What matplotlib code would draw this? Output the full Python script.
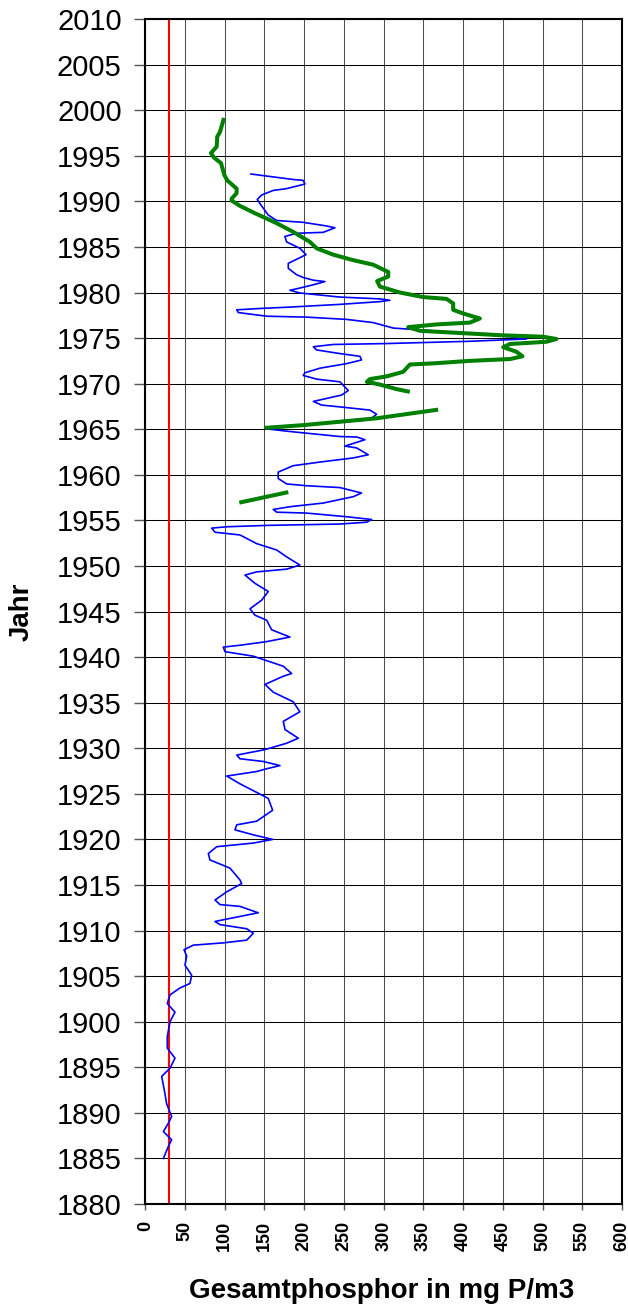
import numpy as np
import matplotlib
matplotlib.use("Agg")
import matplotlib.pyplot as plt

# blue series (measured), value in mg P/m3 vs year
blue_year = [1993.0, 1992.4, 1992.3, 1991.9, 1991.4, 1991.2, 1990.7, 1990.2, 1989.25, 1988.5,
             1987.9, 1987.7, 1987.3, 1987.1, 1986.6, 1986.5, 1986.15, 1985.55, 1984.85, 1984.15,
             1983.65, 1983.2, 1982.65, 1981.95, 1981.65, 1981.35, 1981.2, 1980.85, 1980.45, 1980.25,
             1979.95, 1979.5, 1979.3, 1979.15, 1979.0, 1978.7, 1978.4, 1978.25, 1978.1, 1977.8,
             1977.4, 1977.3, 1977.05, 1976.7, 1976.1, 1976.0, 1975.6, 1975.1, 1974.9, 1974.65,
             1974.4, 1974.3, 1974.05, 1973.7, 1973.3, 1973.0, 1972.6, 1972.2, 1971.7, 1971.2,
             1970.9, 1970.5, 1970.2, 1969.25, 1968.75, 1968.25, 1968.05, 1967.65, 1967.45, 1967.1,
             1966.65, 1966.05, 1965.75, 1965.45, 1965.0, 1964.75, 1964.2, 1964.15, 1963.85, 1963.15,
             1962.95, 1962.2, 1961.85, 1961.4, 1961.0, 1960.3, 1959.6, 1959.0, 1958.8, 1958.6,
             1958.0, 1957.6, 1956.9, 1956.5, 1956.2, 1955.9, 1955.8, 1955.4, 1955.1, 1954.8,
             1954.6, 1954.45, 1954.3, 1954.15, 1953.7, 1953.4, 1952.45, 1951.75, 1951.0, 1950.1,
             1949.65, 1949.35, 1949.0, 1948.1, 1947.2, 1946.25, 1945.3, 1944.6, 1944.05, 1943.0,
             1942.2, 1941.7, 1941.3, 1941.1, 1940.6, 1940.1, 1939.0, 1938.2, 1937.9, 1937.0,
             1936.15, 1935.1, 1934.0, 1932.95, 1932.05, 1931.1, 1930.55, 1929.85, 1929.25, 1928.85,
             1928.55, 1928.1, 1927.75, 1927.45, 1926.95, 1926.1, 1924.5, 1923.2, 1922.0, 1921.6,
             1921.05, 1920.5, 1920.0, 1919.6, 1919.2, 1918.45, 1917.75, 1916.85, 1915.55, 1915.15,
             1914.25, 1913.35, 1912.85, 1912.65, 1911.95, 1911.55, 1911.0, 1910.65, 1910.2, 1909.7,
             1908.95, 1908.65, 1908.4, 1907.9, 1907.2, 1906.2, 1905.1, 1904.2, 1903.7, 1902.95,
             1902.0, 1901.05, 1900.0, 1898.35, 1897.1, 1896.0, 1894.9, 1894.0, 1892.1, 1891.0,
             1889.6, 1888.85, 1887.95, 1887.05, 1886.3, 1885.0]
blue_val = [133.0, 186.2, 198.8, 201.0, 177.9, 161.1, 146.5, 140.9, 148.5, 154.8,
            165.4, 198.8, 228.2, 238.7, 223.9, 190.5, 175.7, 177.9, 194.6, 202.3,
            190.5, 180.0, 180.0, 190.5, 198.8, 211.5, 226.1, 211.5, 192.6, 182.1,
            194.6, 245.0, 295.3, 307.9, 295.3, 245.0, 182.1, 144.4, 115.1, 117.1,
            152.8, 203.1, 253.4, 286.9, 312.0, 328.8, 395.5, 464.8, 479.7, 408.4,
            303.5, 236.6, 211.5, 215.6, 245.0, 270.2, 272.2, 253.4, 219.9, 201.0,
            198.8, 215.6, 245.0, 255.5, 247.1, 222.0, 211.5, 222.0, 245.0, 282.7,
            291.1, 282.7, 245.0, 194.6, 157.0, 182.1, 245.0, 266.0, 276.5, 251.3,
            266.0, 280.6, 261.7, 219.9, 186.2, 167.3, 167.3, 177.9, 203.1, 245.0,
            272.2, 261.7, 223.9, 182.1, 161.1, 165.4, 203.1, 253.4, 284.9, 278.6,
            245.0, 152.8, 102.5, 83.6, 87.8, 119.2, 140.2, 165.4, 177.9, 194.6,
            177.9, 140.2, 125.5, 138.0, 154.8, 146.5, 131.8, 138.0, 152.8, 159.0,
            182.1, 152.8, 119.2, 98.2, 100.3, 136.0, 173.7, 184.2, 173.7, 150.6,
            161.1, 186.2, 194.6, 173.7, 175.9, 192.6, 177.9, 150.6, 115.1, 119.2,
            148.5, 169.5, 152.8, 140.2, 102.5, 119.2, 154.8, 160.3, 140.2, 115.1,
            112.9, 136.0, 160.3, 136.0, 89.9, 79.4, 81.4, 106.6, 119.2, 121.3,
            102.5, 87.8, 94.0, 119.2, 142.2, 119.2, 87.8, 94.0, 127.7, 136.0,
            127.7, 98.2, 60.5, 48.8, 52.1, 50.0, 58.4, 56.3, 43.7, 31.2,
            27.7, 37.4, 31.2, 27.7, 27.7, 37.4, 31.2, 20.7, 24.8, 26.9,
            33.2, 29.0, 22.8, 33.2, 29.0, 22.8]

# green series, nan = gap in the line
green_year = [1999.15, 1997.6, 1997.1, 1996.0, 1995.3, 1994.8, 1994.2, 1992.9, 1992.3, 1991.4,
              1990.9, 1990.3, 1990.1, 1989.5, 1988.7, 1988.2, 1987.6, 1986.65, 1985.55, 1984.85,
              1984.15, 1983.55, 1983.05, 1982.25, 1981.75, 1981.25, 1980.65, 1980.0, 1979.5, 1979.3,
              1978.8, 1978.1, 1977.7, 1977.15, 1976.7, 1976.5, 1976.2, 1975.8, 1975.6, 1975.3,
              1975.15, 1974.9, 1974.6, 1974.35, 1974.0, 1973.5, 1973.0, 1972.7, 1972.5, 1972.25,
              1972.1, 1971.3, 1970.8, 1970.5, 1970.2, 1969.9, 1969.4, 1969.1, np.nan,
              1967.15, 1966.2, 1965.45, 1965.15, np.nan,
              1958.1, 1956.95]
green_val = [99.1, 94.0, 90.6, 89.9, 82.7, 86.5, 95.3, 99.5, 103.2, 115.0,
             115.0, 108.8, 108.6, 119.2, 138.0, 150.6, 165.4, 186.2, 207.2, 215.6,
             236.6, 261.7, 286.9, 305.8, 305.8, 291.8, 295.3, 320.4, 349.8, 379.2,
             387.5, 387.5, 400.1, 421.1, 408.5, 366.6, 330.9, 345.7, 387.5, 450.5,
             500.8, 517.5, 505.0, 458.9, 450.5, 467.2, 474.7, 458.9, 408.5, 366.6,
             333.0, 324.6, 303.7, 282.7, 278.8, 295.3, 316.4, 333.0, np.nan,
             368.6, 291.1, 198.8, 150.6, np.nan,
             180.0, 118.4]

target_value = 30

x_ticks = list(range(0, 601, 50))
y_ticks = list(range(1880, 2011, 5))

plt.rcParams['font.family'] = ['Liberation Sans', 'DejaVu Sans']

fig = plt.figure(figsize=(6.28, 13.06), dpi=100)
ax = fig.add_axes([0.2313, 0.0781, 0.7592, 0.9073])

# horizontal grid black, vertical grid dark grey
ax.yaxis.grid(True, color='black', linewidth=0.75, zorder=0)
ax.xaxis.grid(True, color='#4d4d4d', linewidth=0.75, zorder=0)
ax.set_axisbelow(True)

ax.axvline(target_value, color='red', linewidth=1.5, zorder=2)
ax.plot(blue_val, blue_year, color='#0000FF', linewidth=1.2, zorder=3)
ax.plot(green_val, green_year, color='#008000', linewidth=2.9, zorder=4,
        solid_capstyle='butt')

ax.set_xlim(0, 600)
ax.set_ylim(1880, 2010)
ax.set_xticks(x_ticks)
ax.set_yticks(y_ticks)
ax.set_xticklabels([str(v) for v in x_ticks], rotation=90, fontsize=13, fontweight='bold')
ax.set_yticklabels([str(v) for v in y_ticks], fontsize=21)
ax.tick_params(axis='y', length=8, width=1, color='#555555', pad=9)
ax.tick_params(axis='x', length=4.3, width=1, color='#555555', pad=8)

for s in ax.spines.values():
    s.set_linewidth(1.5)
    s.set_color('black')

fig.text(382 / 628, 1 - 1298 / 1306, 'Gesamtphosphor in mg P/m3', fontsize=20,
         fontweight='bold', ha='center', va='baseline')
fig.text(22 / 628, 1 - 612 / 1306, 'Jahr', fontsize=20, fontweight='bold',
         rotation=90, ha='center', va='center')

fig.savefig('out.png', dpi=100)
